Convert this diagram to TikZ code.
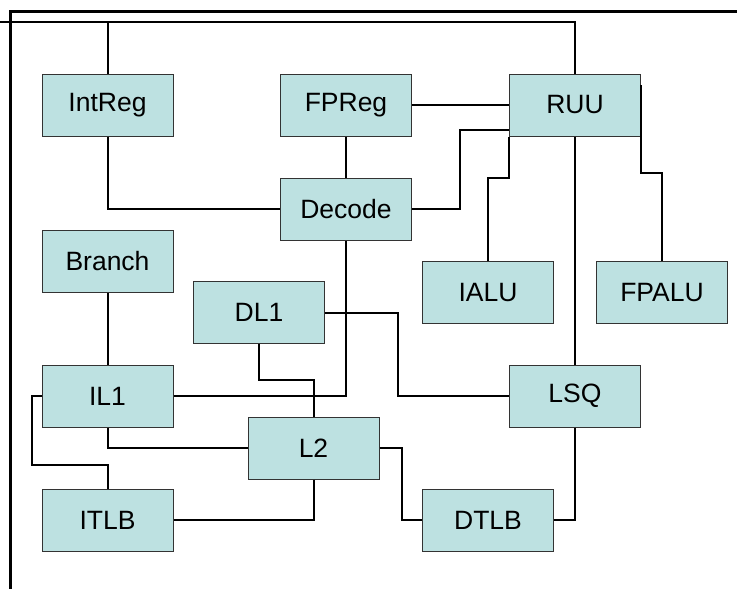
\documentclass[tikz,border=0pt]{standalone}
\usepackage{fontspec}
\setmainfont{Liberation Sans}
\definecolor{boxfill}{RGB}{189,225,225}
\definecolor{boxedge}{RGB}{51,51,51}
\begin{document}
\begin{tikzpicture}[x=1pt,y=-1pt,
  unit/.style={draw=boxedge,line width=1pt,fill=boxfill,minimum width=131pt,
    minimum height=62pt,inner sep=0pt,font=\fontsize{26.5}{30}\selectfont},
  wire/.style={draw=black,line width=2pt},
  frameline/.style={draw=black,line width=3pt}]
\useasboundingbox (0,0) rectangle (737,589);
% outer frame (top and left edges)
\draw[frameline] (10,589) -- (10,11.5) -- (737,11.5);

% functional units
\node[unit] (intreg) at (107.5,105) {IntReg};
\node[unit] (fpreg)  at (346,105)   {FPReg};
\node[unit] (ruu)    at (575,105)   {RUU};
\node[unit] (decode) at (346,209)   {Decode};
\node[unit] (branch) at (107.5,261.5) {Branch};
\node[unit] (ialu)   at (488,292.5) {IALU};
\node[unit] (fpalu)  at (662,292.5) {FPALU};
\node[unit] (dl1)    at (259,312.5) {DL1};
\node[unit] (il1)    at (107.5,396) {IL1};
\node[unit] (l2)     at (313.5,448) {L2};
\node[unit] (lsq)    at (575,396)   {LSQ};
\node[unit] (itlb)   at (107.5,520) {ITLB};
\node[unit] (dtlb)   at (488,520)   {DTLB};

% routing points for the bent wires
\coordinate (topbus) at (0,22);
\coordinate (decjog) at (460,130);
\coordinate (alujog) at (0,178);
\coordinate (fpjog)  at (0,173);
\coordinate (iljog)  at (32,465);
\coordinate (dljog)  at (0,380);
\coordinate (lsqjog) at (398,0);
\coordinate (dtjog)  at (402,0);

% interconnect
\draw[wire] (intreg.north) |- (topbus) -| (ruu.north);
\draw[wire] (intreg.south) |- (decode.west);
\draw[wire] (fpreg.east) -- (ruu.west);
\draw[wire] (fpreg.south) -- (decode.north);
\draw[wire] (decode.east) -| (decjog) -- (ruu.west |- decjog);
\draw[wire] (ialu.north) |- (ruu.south west |- alujog) -- (ruu.south west);
\draw[wire] (ruu.south) -- (lsq.north);
\draw[wire] ([yshift=20pt]ruu.east) |- (fpalu.north |- fpjog) -- (fpalu.north);
\draw[wire] (branch.south) -- (il1.north);
\draw[wire] (il1.east) -| (decode.south);
\draw[wire] (il1.south) |- (l2.west);
\draw[wire] (il1.west) -| (iljog) -| (itlb.north);
\draw[wire] (dl1.south) |- (l2.north |- dljog) -- (l2.north);
\draw[wire] (dl1.east) -| (lsqjog |- lsq.west) -- (lsq.west);
\draw[wire] (l2.south) |- (itlb.east);
\draw[wire] (l2.east) -| (dtjog |- dtlb.west) -- (dtlb.west);
\draw[wire] (lsq.south) |- (dtlb.east);
\end{tikzpicture}
\end{document}
